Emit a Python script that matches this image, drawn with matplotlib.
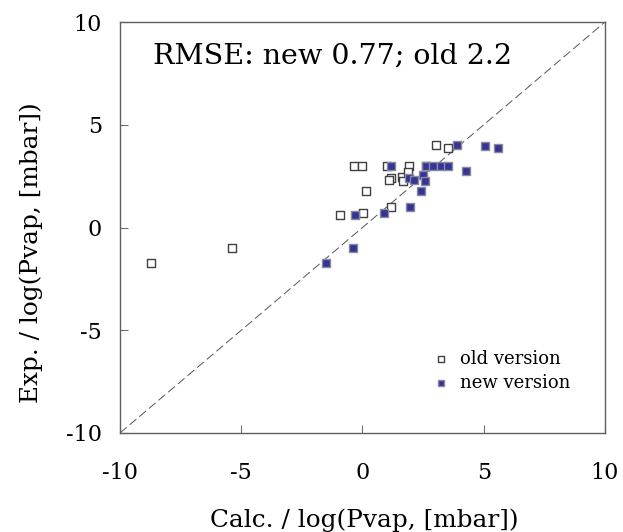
import numpy as np
import matplotlib.pyplot as plt

# old version: (calc, exp)
old_calc = [-8.71, -5.37, -0.93, 0.03, 0.14, 1.19, -0.35, -0.02, 1.00, 1.93, 2.62,
            1.19, 1.11, 1.63, 1.68, 1.89, 3.03, 3.53]
old_exp = [-1.74, -1.01, 0.61, 0.69, 1.78, 0.98, 3.00, 3.00, 3.00, 3.00, 3.00,
           2.39, 2.31, 2.47, 2.26, 2.72, 4.03, 3.87]

# new version: (calc, exp)
new_calc = [-1.51, -0.38, -0.30, 0.89, 1.96, 2.41, 1.16, 2.62, 2.92, 3.22, 3.53,
            1.93, 2.12, 2.51, 2.56, 4.27, 3.88, 5.06, 5.59]
new_exp = [-1.74, -1.01, 0.61, 0.70, 0.98, 1.78, 3.00, 2.99, 2.99, 2.99, 2.97,
           2.39, 2.31, 2.55, 2.26, 2.75, 4.03, 3.97, 3.85]

plt.rcParams['font.family'] = ['DejaVu Serif']

fig = plt.figure(figsize=(6.23, 5.32), dpi=100)
ax = fig.add_axes([0.1926, 0.1861, 0.7785, 0.7725])

ax.plot([-10, 10], [-10, 10], color='#555555', lw=0.7, dashes=(9, 4), zorder=1)

ax.scatter(old_calc, old_exp, marker='s', s=30, facecolor='white',
           edgecolor='#404040', linewidths=1.0, zorder=3, label='old version')
ax.scatter(new_calc, new_exp, marker='s', s=30, facecolor='#333399',
           edgecolor='#8a8a9a', linewidths=1.0, zorder=4, label='new version')

ax.set_xlim(-10, 10)
ax.set_ylim(-10, 10)
ax.set_xticks([-10, -5, 0, 5, 10])
ax.set_yticks([-10, -5, 0, 5, 10])
ax.set_xticklabels(['-10', '-5', '0', '5', '10'])
ax.set_yticklabels(['-10', '-5', '0', '5', '10'])
ax.tick_params(direction='in', length=6, color='#707070', labelsize=16)
ax.tick_params(axis='x', pad=21)
ax.tick_params(axis='y', pad=13)
for s in ax.spines.values():
    s.set_color('#606060')
    s.set_linewidth(1.0)

ax.set_xlabel('Calc. / log(Pvap, [mbar])', fontsize=17.8)
ax.set_ylabel('Exp. / log(Pvap, [mbar])', fontsize=17.8)
ax.xaxis.set_label_coords(0.503, -0.184)
ax.yaxis.set_label_coords(-0.158, 0.44)

ax.text(-8.65, 8.35, 'RMSE: new 0.77; old 2.2', fontsize=20.5, va='center', ha='left')

leg = ax.legend(loc='lower right', bbox_to_anchor=(0.955, 0.07), frameon=False,
                fontsize=13, handletextpad=0.05, labelspacing=0.3,
                markerscale=0.75, borderpad=0.2)

fig.savefig('out.png', dpi=100)
